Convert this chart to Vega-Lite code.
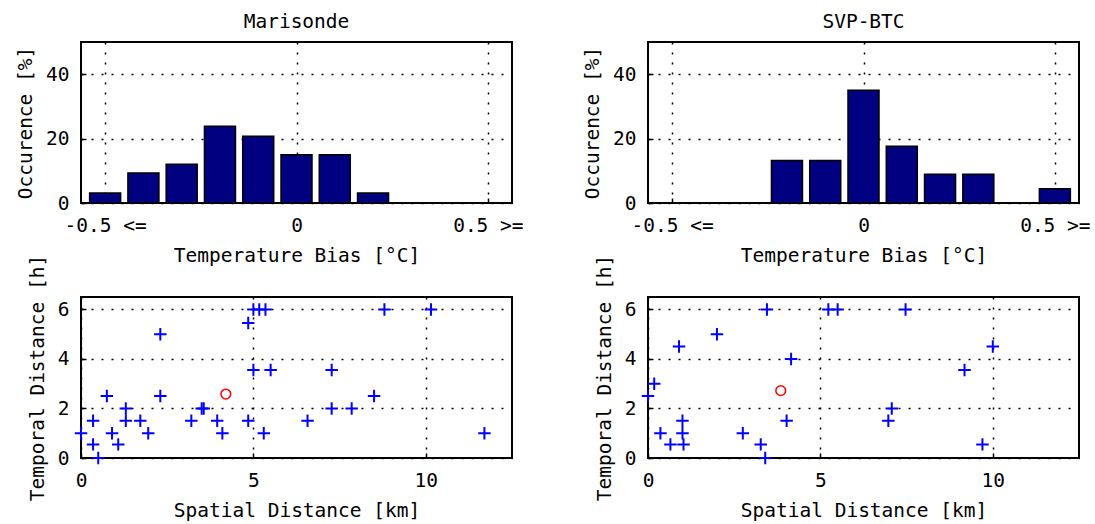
{
  "$schema": "https://vega.github.io/schema/vega-lite/v6.json",
  "padding": {"left": 14, "top": 10, "right": 0, "bottom": 0},
  "background": "white",
  "datasets": {
    "hist_marisonde": [
      {"bias": -0.5, "pct": 3.1},
      {"bias": -0.4, "pct": 9.3},
      {"bias": -0.3, "pct": 12.0},
      {"bias": -0.2, "pct": 23.8},
      {"bias": -0.1, "pct": 20.7},
      {"bias": 0.0, "pct": 15.0},
      {"bias": 0.1, "pct": 15.0},
      {"bias": 0.2, "pct": 3.1}
    ],
    "hist_svp": [
      {"bias": -0.2, "pct": 13.2},
      {"bias": -0.1, "pct": 13.2},
      {"bias": 0.0, "pct": 35.0},
      {"bias": 0.1, "pct": 17.6},
      {"bias": 0.2, "pct": 8.9},
      {"bias": 0.3, "pct": 8.9},
      {"bias": 0.5, "pct": 4.4}
    ],
    "scatter_marisonde": [
      {"dist": 0.0, "time": 1.0, "kind": "match"},
      {"dist": 0.35, "time": 1.5, "kind": "match"},
      {"dist": 0.35, "time": 0.55, "kind": "match"},
      {"dist": 0.5, "time": 0.0, "kind": "match"},
      {"dist": 0.75, "time": 2.5, "kind": "match"},
      {"dist": 0.9, "time": 1.0, "kind": "match"},
      {"dist": 1.08, "time": 0.55, "kind": "match"},
      {"dist": 1.3, "time": 2.0, "kind": "match"},
      {"dist": 1.3, "time": 1.5, "kind": "match"},
      {"dist": 1.72, "time": 1.5, "kind": "match"},
      {"dist": 1.95, "time": 1.0, "kind": "match"},
      {"dist": 2.3, "time": 5.0, "kind": "match"},
      {"dist": 2.3, "time": 2.5, "kind": "match"},
      {"dist": 3.2, "time": 1.5, "kind": "match"},
      {"dist": 3.5, "time": 2.0, "kind": "match"},
      {"dist": 3.56, "time": 2.0, "kind": "match"},
      {"dist": 3.95, "time": 1.5, "kind": "match"},
      {"dist": 4.1, "time": 1.0, "kind": "match"},
      {"dist": 4.85, "time": 5.45, "kind": "match"},
      {"dist": 4.85, "time": 1.5, "kind": "match"},
      {"dist": 5.0, "time": 6.0, "kind": "match"},
      {"dist": 5.0, "time": 3.55, "kind": "match"},
      {"dist": 5.17, "time": 6.0, "kind": "match"},
      {"dist": 5.35, "time": 6.0, "kind": "match"},
      {"dist": 5.3, "time": 1.0, "kind": "match"},
      {"dist": 5.5, "time": 3.55, "kind": "match"},
      {"dist": 6.57, "time": 1.5, "kind": "match"},
      {"dist": 7.27, "time": 3.55, "kind": "match"},
      {"dist": 7.27, "time": 2.0, "kind": "match"},
      {"dist": 7.85, "time": 2.0, "kind": "match"},
      {"dist": 8.5, "time": 2.5, "kind": "match"},
      {"dist": 8.8, "time": 6.0, "kind": "match"},
      {"dist": 10.15, "time": 6.0, "kind": "match"},
      {"dist": 11.7, "time": 1.0, "kind": "match"},
      {"dist": 4.2, "time": 2.58, "kind": "mean"}
    ],
    "scatter_svp": [
      {"dist": 0.0, "time": 2.5, "kind": "match"},
      {"dist": 0.18, "time": 3.0, "kind": "match"},
      {"dist": 0.36, "time": 1.0, "kind": "match"},
      {"dist": 0.65, "time": 0.55, "kind": "match"},
      {"dist": 0.9, "time": 4.5, "kind": "match"},
      {"dist": 1.0, "time": 1.5, "kind": "match"},
      {"dist": 1.0, "time": 1.0, "kind": "match"},
      {"dist": 1.03, "time": 0.55, "kind": "match"},
      {"dist": 2.0, "time": 5.0, "kind": "match"},
      {"dist": 2.75, "time": 1.0, "kind": "match"},
      {"dist": 3.27, "time": 0.55, "kind": "match"},
      {"dist": 3.4, "time": 0.0, "kind": "match"},
      {"dist": 3.45, "time": 6.0, "kind": "match"},
      {"dist": 4.02, "time": 1.5, "kind": "match"},
      {"dist": 4.15, "time": 4.0, "kind": "match"},
      {"dist": 5.23, "time": 6.0, "kind": "match"},
      {"dist": 5.5, "time": 6.0, "kind": "match"},
      {"dist": 6.97, "time": 1.5, "kind": "match"},
      {"dist": 7.07, "time": 2.0, "kind": "match"},
      {"dist": 7.47, "time": 6.0, "kind": "match"},
      {"dist": 9.18, "time": 3.55, "kind": "match"},
      {"dist": 9.7, "time": 0.55, "kind": "match"},
      {"dist": 10.0, "time": 4.5, "kind": "match"},
      {"dist": 3.85, "time": 2.72, "kind": "mean"}
    ]
  },
  "columns": 2,
  "bounds": "flush",
  "spacing": {"row": 94, "column": 136},
  "concat": [
    {
      "title": "Marisonde",
      "width": 431,
      "height": 161,
      "data": {"name": "hist_marisonde"},
      "mark": {"type": "bar", "orient": "vertical", "size": 31, "fill": "#000080", "stroke": "black", "strokeWidth": 1.5},
      "encoding": {
        "x": {"field": "bias", "type": "quantitative", "scale": {"domain": [-0.55, 0.55], "nice": false, "zero": false},
          "axis": {"title": "Temperature Bias [°C]", "values": [-0.5, 0, 0.5], "labelExpr": "datum.value < -0.1 ? '-0.5 <=' : (datum.value > 0.1 ? '0.5 >=' : '0')"}},
        "y": {"field": "pct", "type": "quantitative", "scale": {"domain": [0, 50], "nice": false},
          "axis": {"title": "Occurence [%]", "values": [0, 20, 40]}}
      }
    },
    {
      "title": "SVP-BTC",
      "width": 431,
      "height": 161,
      "data": {"name": "hist_svp"},
      "mark": {"type": "bar", "orient": "vertical", "size": 31, "fill": "#000080", "stroke": "black", "strokeWidth": 1.5},
      "encoding": {
        "x": {"field": "bias", "type": "quantitative", "scale": {"domain": [-0.55, 0.55], "nice": false, "zero": false},
          "axis": {"title": "Temperature Bias [°C]", "values": [-0.5, 0, 0.5], "labelExpr": "datum.value < -0.1 ? '-0.5 <=' : (datum.value > 0.1 ? '0.5 >=' : '0')"}},
        "y": {"field": "pct", "type": "quantitative", "scale": {"domain": [0, 50], "nice": false},
          "axis": {"title": "Occurence [%]", "values": [0, 20, 40]}}
      }
    },
    {
      "width": 431,
      "height": 161,
      "data": {"name": "scatter_marisonde"},
      "encoding": {
        "x": {"field": "dist", "type": "quantitative", "scale": {"domain": [0, 12.5], "nice": false},
          "axis": {"title": "Spatial Distance [km]", "values": [0, 5, 10]}},
        "y": {"field": "time", "type": "quantitative", "scale": {"domain": [0, 6.5], "nice": false},
          "axis": {"title": "Temporal Distance [h]", "values": [0, 2, 4, 6]}}
      },
      "layer": [
        {"transform": [{"filter": "datum.kind == 'match'"}],
         "mark": {"type": "point", "shape": "M-1,0H1M0,-1V1", "filled": false, "stroke": "#0000FF", "strokeWidth": 2, "size": 156, "opacity": 1}},
        {"transform": [{"filter": "datum.kind == 'mean'"}],
         "mark": {"type": "point", "shape": "circle", "filled": false, "stroke": "#FF0000", "strokeWidth": 1.5, "size": 95, "opacity": 1}}
      ]
    },
    {
      "width": 431,
      "height": 161,
      "data": {"name": "scatter_svp"},
      "encoding": {
        "x": {"field": "dist", "type": "quantitative", "scale": {"domain": [0, 12.5], "nice": false},
          "axis": {"title": "Spatial Distance [km]", "values": [0, 5, 10]}},
        "y": {"field": "time", "type": "quantitative", "scale": {"domain": [0, 6.5], "nice": false},
          "axis": {"title": "Temporal Distance [h]", "values": [0, 2, 4, 6]}}
      },
      "layer": [
        {"transform": [{"filter": "datum.kind == 'match'"}],
         "mark": {"type": "point", "shape": "M-1,0H1M0,-1V1", "filled": false, "stroke": "#0000FF", "strokeWidth": 2, "size": 156, "opacity": 1}},
        {"transform": [{"filter": "datum.kind == 'mean'"}],
         "mark": {"type": "point", "shape": "circle", "filled": false, "stroke": "#FF0000", "strokeWidth": 1.5, "size": 95, "opacity": 1}}
      ]
    }
  ],
  "config": {
    "font": "DejaVu Sans Mono",
    "view": {"stroke": "black", "strokeWidth": 2},
    "title": {"fontSize": 19.5, "fontWeight": "normal", "color": "black", "offset": 10, "anchor": "middle"},
    "axis": {
      "labelFontSize": 19.5,
      "titleFontSize": 19.5,
      "titleFontWeight": "normal",
      "labelColor": "black",
      "titleColor": "black",
      "domain": false,
      "grid": true,
      "gridColor": "black",
      "gridDash": [2, 8],
      "gridWidth": 1.5,
      "gridOpacity": 1,
      "ticks": true,
      "tickColor": "black",
      "tickSize": -5,
      "tickWidth": 1.5,
      "labelFlush": false,
      "labelOverlap": false
    },
    "axisX": {"labelPadding": 18, "titlePadding": 12},
    "axisY": {"labelPadding": 17, "titlePadding": 10}
  }
}
